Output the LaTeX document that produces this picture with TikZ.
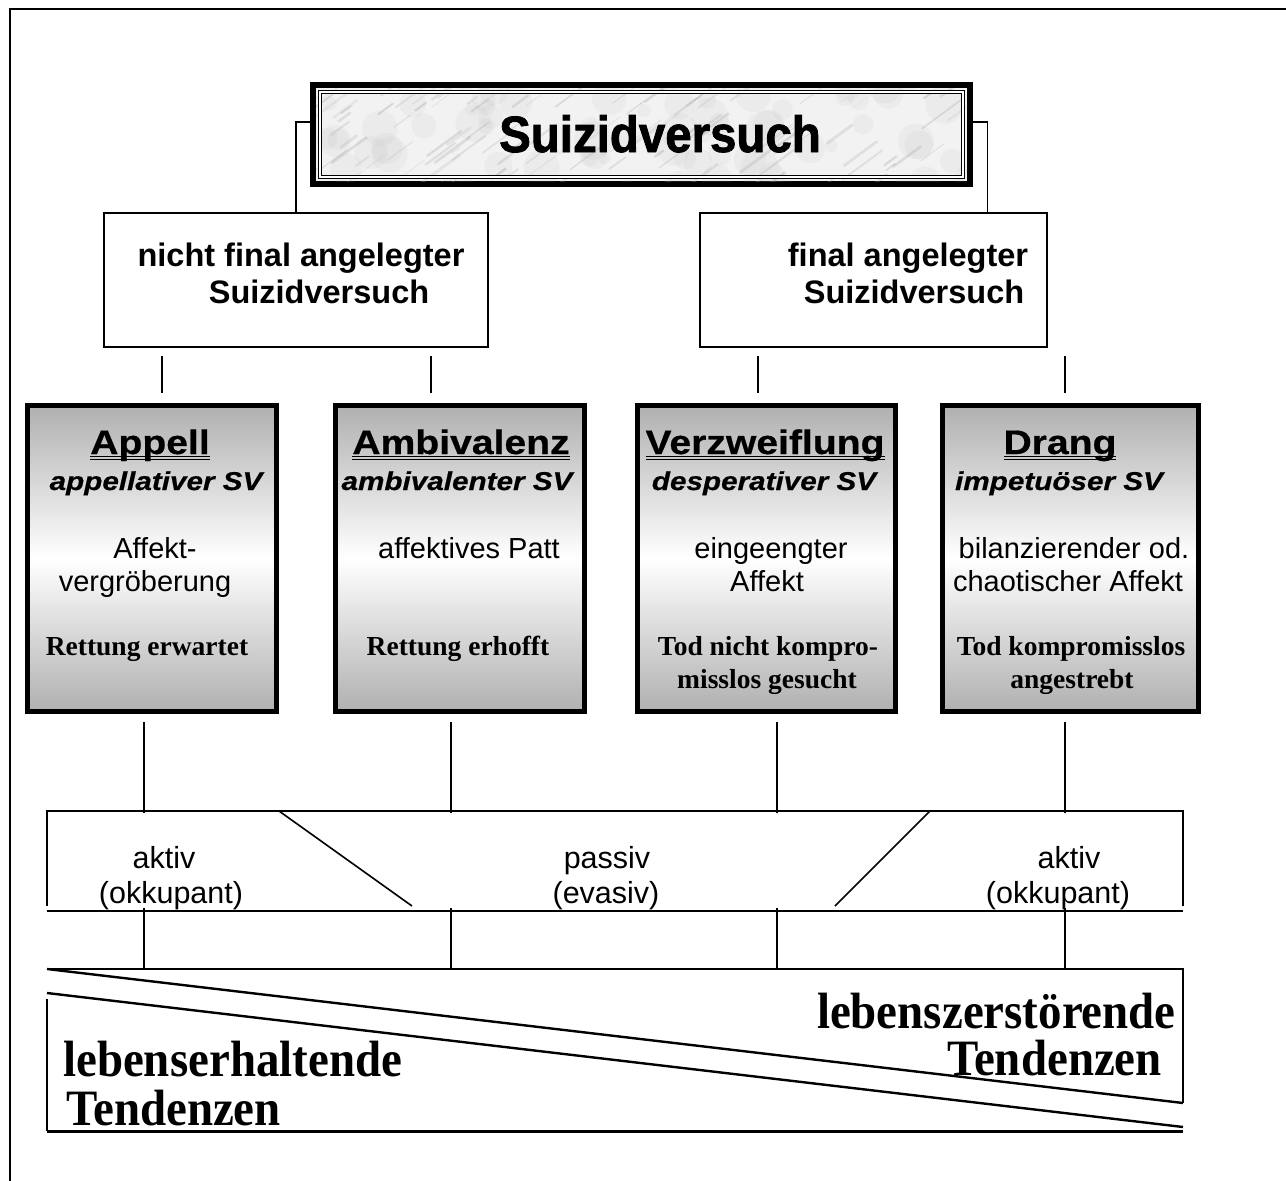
\documentclass[tikz,border=0pt]{standalone}
\usepackage{fontspec}
\setmainfont{Liberation Serif}
\newfontfamily\sansw[FakeStretch=1.15,FakeBold=0.6]{Liberation Sans}
\newfontfamily\sansn{Liberation Sans}
\newfontfamily\heavy[FakeBold=1.6,FakeStretch=0.93]{Liberation Sans}
\newfontfamily\serifc[FakeStretch=0.92]{Liberation Serif}
\newlength\dulw
\newcommand\dul[1]{\settowidth\dulw{#1}\rlap{\rule[-6.2pt]{\dulw}{1.3pt}}\rlap{\rule[-3.4pt]{\dulw}{1.3pt}}#1}
\tikzset{
  conn/.style={line width=1.6pt, black},
  frame/.style={line width=2pt, black},
  txt/.style={inner sep=0pt, anchor=base},
  tlarge/.style={txt, font=\heavy\bfseries\fontsize{51}{51}\selectfont},
  tlev/.style={txt, font=\sansn\bfseries\fontsize{32.5}{36}\selectfont},
  thead/.style={txt, font=\sansw\bfseries\fontsize{34}{40}\selectfont},
  tital/.style={txt, font=\sansw\bfseries\itshape\fontsize{25.8}{30}\selectfont},
  treg/.style={txt, font=\sansn\fontsize{29}{33}\selectfont},
  tser/.style={txt, font=\bfseries\fontsize{27.5}{32}\selectfont},
  tband/.style={txt, font=\sansn\fontsize{30.5}{34}\selectfont},
  tbig/.style={inner sep=0pt, font=\serifc\bfseries\fontsize{51}{54}\selectfont},
  levbox/.style={draw, line width=2pt, inner sep=0pt, fill=white},
  typebox/.style={draw, line width=5pt, inner sep=0pt,
    top color=gray!62, bottom color=gray!62, middle color=white,
    minimum width=249pt, minimum height=306pt},
}
\begin{document}
\begin{tikzpicture}[x=1pt,y=-1pt]
\useasboundingbox (0,0) rectangle (1286,1181);
% outer frame
\draw[line width=2.5pt] (10,1181) -- (10,9) -- (1286,9);

% title box
\node[draw, line width=6pt, fill=gray!10, inner sep=0pt, minimum width=657pt, minimum height=99pt] (T) at (641.5,134.5) {};
\begin{scope}
  \clip (316,88) rectangle (967,181);
  \pgfmathsetseed{5}
  \foreach \i in {1,...,70}{
    \pgfmathsetmacro\xx{300+rnd*680}
    \pgfmathsetmacro\yy{80+rnd*115}
    \pgfmathsetmacro\rr{6+rnd*14}
    \fill[black!30, opacity=0.10] (\xx,\yy) circle (\rr pt);
  }
  \pgfmathsetseed{11}
  \foreach \i in {1,...,120}{
    \pgfmathsetmacro\xx{300+rnd*680}
    \pgfmathsetmacro\yy{80+rnd*115}
    \pgfmathsetmacro\ll{10+rnd*45}
    \pgfmathsetmacro\lw{0.6+rnd*2.4}
    \pgfmathsetmacro\gg{20+rnd*25}
    \draw[black!\gg, line width=\lw pt, opacity=0.28, line cap=round] (\xx,\yy) -- ++(\ll*0.75,-\ll*0.55);
  }
\end{scope}
\draw[line width=0.9pt, double=white, double distance=1.4pt] (320,92) rectangle (963,177);
\node[tlarge] (tt) at (660,152) {Suizidversuch};

% second level boxes
\node[levbox, minimum width=384pt, minimum height=134pt] (N1) at (296,280) {};
\node[levbox, minimum width=347pt, minimum height=134pt] (N2) at (873.5,280) {};
\node[tlev] (n1a) at (301,266) {nicht final angelegter};
\node[tlev] (n1b) at (319,303) {Suizidversuch};
\node[tlev] (n2a) at (908,266) {final angelegter};
\node[tlev] (n2b) at (914,303) {Suizidversuch};

\draw[conn] ([yshift=12.5pt]T.west) -| (N1.north);
\draw[conn] ([yshift=12.5pt]T.east) -| ([xshift=114pt]N2.north);

% short connectors
\coordinate (u1) at (162,356); \coordinate (u1e) at (162,393);
\coordinate (u2) at (431,356); \coordinate (u2e) at (431,393);
\coordinate (u3) at (758,356); \coordinate (u3e) at (758,393);
\coordinate (u4) at (1065,356); \coordinate (u4e) at (1065,393);
\draw[conn] (u1) -- (u1e);
\draw[conn] (u2) -- (u2e);
\draw[conn] (u3) -- (u3e);
\draw[conn] (u4) -- (u4e);

% type boxes
\node[typebox] (A) at (152,558.5) {};
\node[typebox] (B) at (459.5,558.5) {};
\node[typebox, minimum width=258pt] (C) at (766.5,558.5) {};
\node[typebox, minimum width=256pt] (D) at (1070.5,558.5) {};

\node[thead] (a1) at (150,454) {\dul{Appell}};
\node[tital] (a2) at (156,490) {appellativer SV};
\node[treg] (a3) at (155,558) {Affekt-};
\node[treg] (a4) at (145,591) {vergröberung};
\node[tser] (a5) at (147,655) {Rettung erwartet};

\node[thead] (b1) at (461,454) {\dul{Ambivalenz}};
\node[tital] (b2) at (457,490) {ambivalenter SV};
\node[treg] (b3) at (469,558) {affektives Patt};
\node[tser] (b5) at (458,655) {Rettung erhofft};

\node[thead] (c1) at (765,454) {\dul{Verzweiflung}};
\node[tital] (c2) at (764,490) {desperativer SV};
\node[treg] (c3) at (771,558) {eingeengter};
\node[treg] (c4) at (767,591) {Affekt};
\node[tser] (c5) at (768,655) {Tod nicht kompro-};
\node[tser] (c6) at (767,688) {misslos gesucht};

\node[thead] (d1) at (1060,454) {\dul{Drang}};
\node[tital] (d2) at (1059,490) {impetuöser SV};
\node[treg] (d3) at (1074,558) {bilanzierender od.};
\node[treg] (d4) at (1068,591) {chaotischer Affekt};
\node[tser] (d5) at (1071,655) {Tod kompromisslos};
\node[tser] (d6) at (1072,688) {angestrebt};

% lower connectors
\foreach \n/\x in {1/144,2/451,3/777,4/1065}{
  \coordinate (l\n a) at (\x,722); \coordinate (l\n b) at (\x,813);
  \coordinate (l\n c) at (\x,908); \coordinate (l\n d) at (\x,968);
  \draw[conn] (l\n a) -- (l\n b);
  \draw[conn] (l\n c) -- (l\n d);
}

% band
\draw[frame] (47,906) -- (47,811) -- (1183,811) -- (1183,906);
\draw[line width=2.4pt] (47,911) -- (1183,911);
\draw[conn] (279,811) -- (412,906);
\draw[conn] (930,811) -- (835,906);
\node[tband] (p1a) at (164,868) {aktiv};
\node[tband] (p1b) at (171,903) {(okkupant)};
\node[tband] (p2a) at (607,868) {passiv};
\node[tband] (p2b) at (606,903) {(evasiv)};
\node[tband] (p3a) at (1069,868) {aktiv};
\node[tband] (p3b) at (1058,903) {(okkupant)};

% bottom tendency box
\draw[frame] (47,969) -- (1183,969) -- (1183,1103);
\draw[line width=2.4pt] (47,969) -- (1183,1103);
\draw[line width=2.4pt] (47,993) -- (1183,1127);
\draw[frame] (47,999) -- (47,1131);
\draw[line width=3pt] (47,1131) -- (1183,1131);
\node[tbig, anchor=base west] (e1) at (63,1076) {lebenserhaltende};
\node[tbig, anchor=base west] (e2) at (66,1125) {Tendenzen};
\node[tbig, anchor=base east] (z1) at (1176,1028) {lebenszerstörende};
\node[tbig, anchor=base east] (z2) at (1162,1075) {Tendenzen};
\end{tikzpicture}
\end{document}
